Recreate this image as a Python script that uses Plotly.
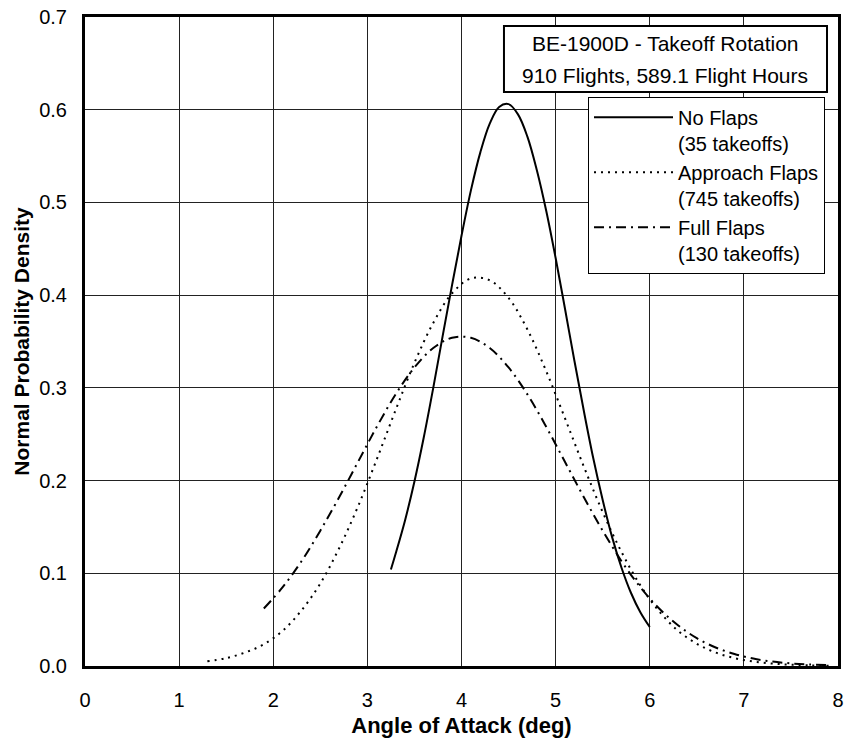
import plotly.graph_objects as go

# ---- data ----
no_flaps_x = [3.25, 3.3, 3.4, 3.5, 3.6, 3.7, 3.8, 3.9, 4.0, 4.1, 4.2, 4.3, 4.4, 4.5,
              4.6, 4.7, 4.8, 4.9, 5.0, 5.1, 5.2, 5.3, 5.4, 5.5, 5.6, 5.7, 5.8, 5.9, 6.0]
no_flaps_y = [0.104, 0.121, 0.157, 0.199, 0.247, 0.300, 0.356, 0.411, 0.464, 0.513,
              0.554, 0.585, 0.603, 0.606, 0.595, 0.571, 0.535, 0.491, 0.440, 0.385,
              0.329, 0.275, 0.224, 0.179, 0.139, 0.106, 0.079, 0.058, 0.042]

approach_x = [1.3, 1.5, 1.7, 1.9, 2.1, 2.3, 2.5, 2.7, 2.9, 3.1, 3.3, 3.5, 3.7, 3.9,
              4.1, 4.3, 4.5, 4.7, 4.9, 5.1, 5.3, 5.5, 5.7, 5.9, 6.1, 6.3, 6.5, 6.7,
              6.9, 7.1, 7.3, 7.5, 7.7, 7.9]
approach_y = [0.005, 0.0085, 0.0145, 0.0235, 0.038, 0.060, 0.089, 0.127, 0.172, 0.223,
              0.276, 0.327, 0.370, 0.402, 0.418, 0.416, 0.397, 0.363, 0.318, 0.267,
              0.215, 0.166, 0.123, 0.087, 0.059, 0.038, 0.024, 0.0145, 0.0085, 0.0048,
              0.0026, 0.0014, 0.0007, 0.0003]

full_x = [1.9, 2.1, 2.3, 2.5, 2.7, 2.9, 3.1, 3.3, 3.5, 3.7, 3.9, 4.1, 4.3, 4.5, 4.7,
          4.9, 5.1, 5.3, 5.5, 5.7, 5.9, 6.1, 6.3, 6.5, 6.7, 6.9, 7.1, 7.3, 7.5, 7.7, 7.9]
full_y = [0.062, 0.085, 0.113, 0.146, 0.182, 0.220, 0.258, 0.293, 0.322, 0.343, 0.354,
          0.354, 0.343, 0.322, 0.293, 0.258, 0.220, 0.182, 0.146, 0.113, 0.085, 0.062,
          0.044, 0.030, 0.020, 0.013, 0.008, 0.0048, 0.0028, 0.0016, 0.0009]

series_names = ["No Flaps<br>(35 takeoffs)",
                "Approach Flaps<br>(745 takeoffs)",
                "Full Flaps<br>(130 takeoffs)"]

x_ticks = [0, 1, 2, 3, 4, 5, 6, 7, 8]
y_ticks = [0.0, 0.1, 0.2, 0.3, 0.4, 0.5, 0.6, 0.7]
y_tick_labels = ["0.0", "0.1", "0.2", "0.3", "0.4", "0.5", "0.6", "0.7"]

title_lines = ["BE-1900D - Takeoff Rotation", "910 Flights, 589.1 Flight Hours"]

FONT = "Liberation Sans, Arial, sans-serif"

fig = go.Figure()
fig.add_trace(go.Scatter(x=no_flaps_x, y=no_flaps_y, mode="lines", name=series_names[0],
                         line=dict(color="black", width=2, shape="spline")))
fig.add_trace(go.Scatter(x=approach_x, y=approach_y, mode="lines", name=series_names[1],
                         line=dict(color="black", width=2, dash="2px,5px", shape="spline")))
fig.add_trace(go.Scatter(x=full_x, y=full_y, mode="lines", name=series_names[2],
                         line=dict(color="black", width=2, dash="10px,5px,2px,5px", shape="spline")))

fig.update_layout(
    width=846, height=740,
    margin=dict(l=85, r=8, t=17, b=74),
    paper_bgcolor="white", plot_bgcolor="white",
    font=dict(family=FONT, size=20, color="black"),
    showlegend=True,
    legend=dict(x=0.668, y=0.877, xanchor="left", yanchor="top",
                bgcolor="white", bordercolor="black", borderwidth=1,
                font=dict(family=FONT, size=20, color="black"),
                valign="top", itemwidth=79, tracegroupgap=0,
                traceorder="normal"),
    xaxis=dict(range=[0, 8], tickvals=x_ticks, showgrid=True, gridcolor="#222222",
               gridwidth=1, showline=True, linecolor="black", linewidth=3, mirror=True,
               zeroline=False, ticks="", ticklabelstandoff=14, automargin=False,
               tickfont=dict(family=FONT, size=20),
               title=dict(text="<b>Angle of Attack (deg)</b>", standoff=8,
                          font=dict(family=FONT, size=22))),
    yaxis=dict(range=[0, 0.7], tickvals=y_ticks, ticktext=y_tick_labels, showgrid=True,
               gridcolor="#222222", gridwidth=1, showline=True, linecolor="black",
               linewidth=3, mirror=True, zeroline=False, ticks="", ticklabelstandoff=11,
               automargin=False, tickfont=dict(family=FONT, size=20),
               title=dict(text="<b>Normal Probability Density</b>", standoff=4,
                          font=dict(family=FONT, size=21))),
)

# title box
fig.add_shape(type="rect", xref="paper", yref="paper", x0=0.5564, x1=0.9854,
              y0=0.8844, y1=0.9861, line=dict(color="black", width=2),
              fillcolor="white", layer="above")
fig.add_annotation(xref="paper", yref="paper", x=0.7709, y=0.9599, text=title_lines[0],
                   showarrow=False, font=dict(family=FONT, size=21), xanchor="center",
                   yanchor="middle")
fig.add_annotation(xref="paper", yref="paper", x=0.7709, y=0.9106, text=title_lines[1],
                   showarrow=False, font=dict(family=FONT, size=21), xanchor="center",
                   yanchor="middle")

fig.write_html("out.html")
